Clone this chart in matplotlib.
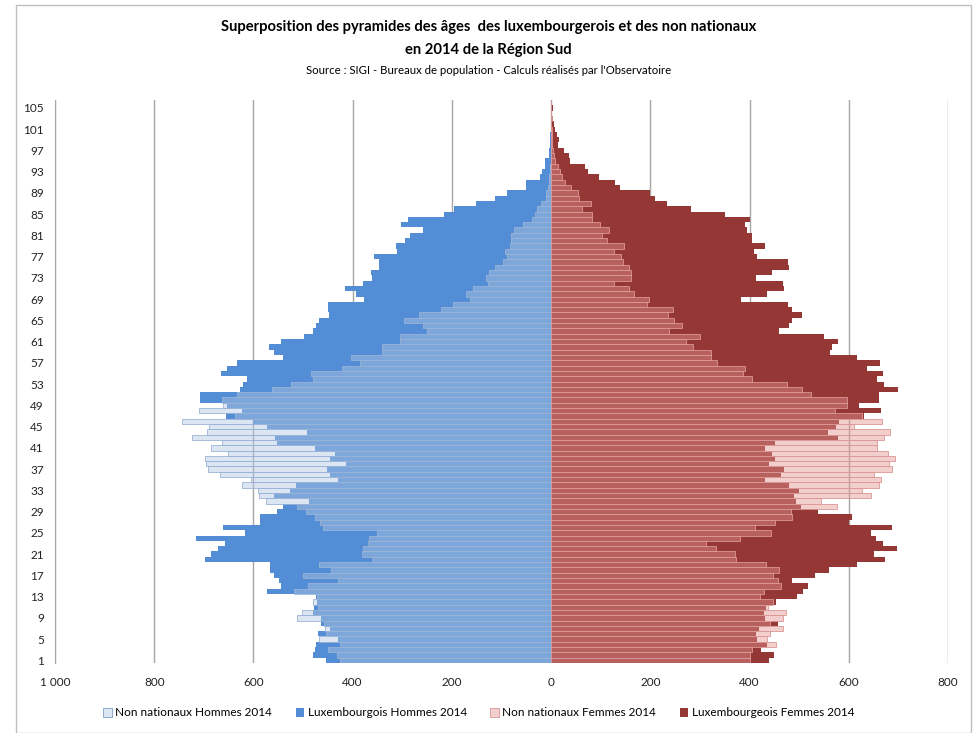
import numpy as np
import matplotlib
matplotlib.use("Agg")
import matplotlib.pyplot as plt
from matplotlib.patches import Patch, Rectangle
from matplotlib.ticker import FuncFormatter

plt.rcParams['font.family'] = ['Liberation Sans Narrow', 'Lato', 'DejaVu Sans']

# ages (categories 1..106)
ages = np.arange(1, 107)

lux_hommes = [453, 480, 475, 473, 429, 469, 446, 463, 463, 480,
              478, 471, 473, 572, 545, 549, 559, 567, 567, 698,
              685, 672, 657, 716, 617, 662, 586, 586, 552, 540,
              488, 559, 527, 514, 429, 446, 451, 414, 446, 436,
              475, 552, 556, 492, 572, 601, 655, 624, 653, 707,
              707, 628, 622, 613, 665, 653, 633, 541, 559, 568,
              545, 498, 479, 473, 468, 448, 450, 450, 377, 394,
              415, 379, 362, 364, 347, 347, 357, 310, 312, 294,
              285, 259, 303, 288, 215, 195, 152, 114, 89, 51,
              51, 22, 19, 13, 12, 5, 4, 3, 2, 2,
              1, 1, 0, 1, 0, 0]

nonnat_hommes = [426, 432, 450, 426, 468, 453, 456, 458, 512, 502,
                 469, 480, 471, 519, 490, 429, 500, 443, 467, 362,
                 382, 380, 370, 367, 350, 460, 465, 476, 495, 513,
                 574, 589, 591, 624, 604, 667, 692, 695, 697, 651,
                 685, 663, 724, 694, 689, 744, 638, 710, 662, 663,
                 633, 562, 524, 480, 483, 421, 386, 403, 340, 340,
                 305, 305, 251, 259, 296, 266, 222, 197, 164, 172,
                 157, 128, 131, 125, 114, 96, 88, 93, 82, 81,
                 81, 75, 57, 39, 32, 28, 20, 10, 10, 7,
                 5, 4, 2, 2, 1, 0, 0, 0, 0, 0,
                 0, 0, 0, 0, 0, 0]

lux_femmes = [439, 449, 424, 435, 414, 412, 419, 457, 432, 429,
              434, 454, 496, 508, 517, 486, 532, 560, 617, 674,
              651, 698, 668, 654, 644, 688, 600, 606, 538, 503,
              493, 489, 499, 479, 432, 464, 469, 439, 452, 445,
              432, 451, 578, 558, 575, 580, 631, 664, 620, 661,
              661, 700, 670, 657, 669, 637, 663, 616, 563, 567,
              578, 550, 459, 479, 486, 505, 485, 477, 382, 435,
              469, 468, 412, 445, 479, 477, 415, 408, 432, 405,
              404, 395, 390, 400, 351, 281, 234, 209, 200, 139,
              129, 96, 74, 69, 38, 37, 25, 13, 15, 11,
              8, 5, 3, 1, 3, 1]

nonnat_femmes = [400, 400, 405, 454, 435, 441, 468, 442, 468, 474,
                 437, 447, 422, 429, 464, 457, 447, 459, 433, 373,
                 371, 333, 313, 380, 443, 410, 451, 486, 483, 577,
                 545, 644, 627, 660, 664, 651, 688, 682, 693, 679,
                 657, 657, 670, 684, 610, 666, 627, 573, 597, 597,
                 524, 506, 476, 405, 387, 390, 334, 323, 323, 285,
                 271, 301, 238, 264, 247, 235, 245, 193, 197, 168,
                 156, 126, 162, 162, 156, 145, 141, 127, 146, 112,
                 102, 116, 99, 82, 82, 62, 81, 57, 55, 40,
                 28, 22, 18, 13, 8, 5, 3, 2, 2, 1,
                 1, 0, 1, 0, 0, 0]

ytick_labels = list(range(1, 107, 4))
xticks = [-1000, -800, -600, -400, -200, 0, 200, 400, 600, 800]

fig = plt.figure(figsize=(9.77, 7.33), dpi=100)
ax = fig.add_axes([55/977, 1-663/733, (948-55)/977, (663-100)/733])

# luxembourgeois en plein, non nationaux superposés (semi-transparents)
ax.barh(ages, -np.array(lux_hommes), height=1.0, color='#538DD5', linewidth=0, zorder=2)
ax.barh(ages, lux_femmes, height=1.0, color='#953735', linewidth=0, zorder=2)
ax.barh(ages, -np.array(nonnat_hommes), height=1.0, color=(178/255, 200/255, 227/255, 0.45),
        edgecolor='#9AB3D6', linewidth=0.6, zorder=3)
ax.barh(ages, nonnat_femmes, height=1.0, color=(227/255, 147/255, 144/255, 0.45),
        edgecolor='#DB9896', linewidth=0.6, zorder=3)

ax.set_xlim(-1000, 800)
ax.set_ylim(0.5, 106.5)
ax.set_xticks(xticks)
ax.xaxis.set_major_formatter(FuncFormatter(
    lambda v, p: '{:,}'.format(int(abs(v))).replace(',', ' ')))
ax.set_yticks(ytick_labels)
ax.set_yticklabels([str(v) for v in ytick_labels])
ax.tick_params(axis='both', length=0, labelsize=8.5, colors='#222222')
ax.tick_params(axis='x', pad=10)
ax.tick_params(axis='y', pad=8)
ax.grid(axis='x', color='#A6A6A6', linewidth=1.0, zorder=0)
ax.set_axisbelow(True)
for s in ['top', 'right', 'bottom']:
    ax.spines[s].set_visible(False)
ax.spines['left'].set_color('#A6A6A6')

fig.text(0.5, 1-27/733, "Superposition des pyramides des âges  des luxembourgerois et des non nationaux",
         ha='center', va='center', fontsize=10.6, fontweight='bold')
fig.text(0.5, 1-50/733, "en 2014 de la Région Sud", ha='center', va='center',
         fontsize=10.6, fontweight='bold')
fig.text(0.5, 1-70/733, "Source : SIGI - Bureaux de population - Calculs réalisés par l'Observatoire",
         ha='center', va='center', fontsize=8.2)

handles = [Patch(facecolor='#DDE7F3', edgecolor='#7F9CC0', linewidth=0.6),
           Patch(facecolor='#538DD5'),
           Patch(facecolor='#F2CFCE', edgecolor='#D99694', linewidth=0.6),
           Patch(facecolor='#953735')]
labels = ['Non nationaux Hommes 2014', 'Luxembourgois Hommes 2014',
          'Non nationaux Femmes 2014', 'Luxembourgeois Femmes 2014']
fig.legend(handles, labels, loc='center', bbox_to_anchor=(0.49, 1-713/733), ncol=4,
           frameon=False, fontsize=8.5, handlelength=0.7, handleheight=0.7,
           handletextpad=0.3, columnspacing=2.0)

fig.patches.append(Rectangle((16/977, 0), (971-16)/977, 1-5/733, transform=fig.transFigure,
                             fill=False, edgecolor='#BFBFBF', linewidth=1.0))

fig.savefig('out.png', dpi=100)
